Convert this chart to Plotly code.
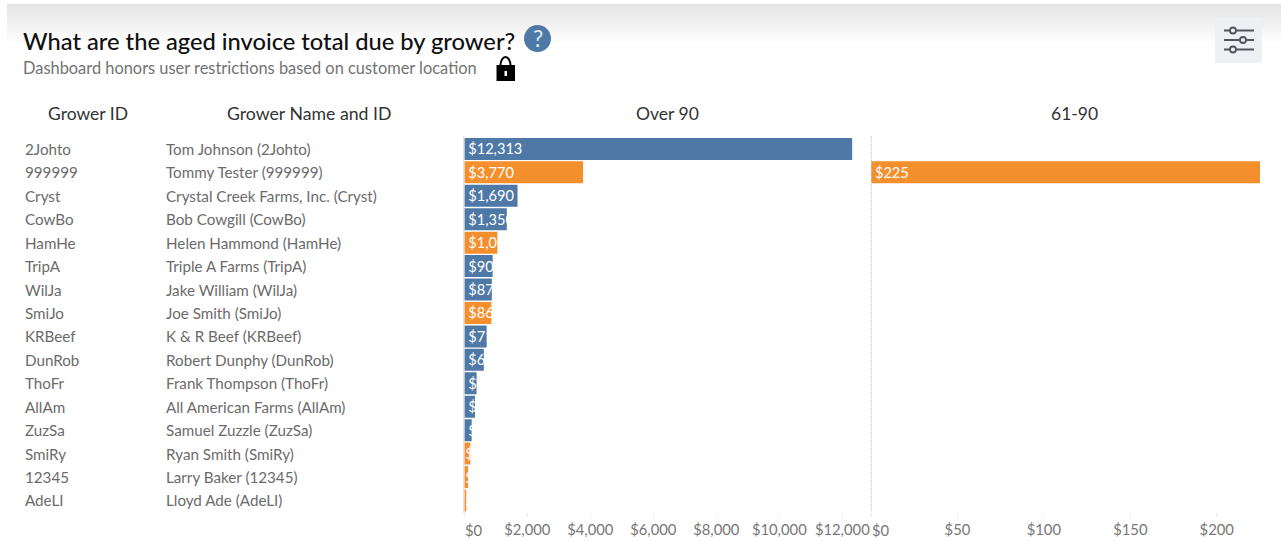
import plotly.graph_objects as go

grower_ids = ["2Johto","999999","Cryst","CowBo","HamHe","TripA","WilJa","SmiJo","KRBeef","DunRob","ThoFr","AllAm","ZuzSa","SmiRy","12345","AdeLI"]
grower_names = ["Tom Johnson (2Johto)","Tommy Tester (999999)","Crystal Creek Farms, Inc. (Cryst)","Bob Cowgill (CowBo)","Helen Hammond (HamHe)","Triple A Farms (TripA)","Jake William (WilJa)","Joe Smith (SmiJo)","K & R Beef (KRBeef)","Robert Dunphy (DunRob)","Frank Thompson (ThoFr)","All American Farms (AllAm)","Samuel Zuzzle (ZuzSa)","Ryan Smith (SmiRy)","Larry Baker (12345)","Lloyd Ade (AdeLI)"]
over_90 = [12313,3770,1690,1350,1050,900,875,860,710,620,390,340,235,190,120,50]
d61_90 = [None,225,None,None,None,None,None,None,None,None,None,None,None,None,None,None]
flag_orange = [0,1,0,0,1,0,0,1,0,0,0,0,0,1,1,1]
ticks_over = [0,2000,4000,6000,8000,10000,12000]
ticks_61 = [0,50,100,150,200]

W, H = 1281, 541
BLUE, ORANGE = "#4e79a7", "#f48f2d"
FONT = "Lato"
colors = [ORANGE if f else BLUE for f in flag_orange]
px = lambda v: v / W
py = lambda v: 1 - v / H
money = lambda v: f"${v:,}"
tick_text = lambda vals: ["" if v == 0 else money(v) for v in vals]

fig = go.Figure()
bar_style = dict(orientation="h", marker=dict(color=colors, line=dict(width=0)), textposition="inside",
                 insidetextanchor="start", constraintext="none", textangle=0, width=0.94,
                 textfont=dict(color="#ffffff", size=14.6, family=FONT))
fig.add_bar(y=grower_ids, x=over_90, text=["\u200a" + money(v) for v in over_90], xaxis="x", yaxis="y", **bar_style)
fig.add_bar(y=grower_ids, x=d61_90, text=["\u200a" + money(v) if v else "" for v in d61_90], xaxis="x2", yaxis="y2", **bar_style)

shapes = []
# top fading band
for i in range(40):
    g = 228 + int(27 * i / 39)
    shapes.append(dict(type="rect", xref="paper", yref="paper", x0=px(7), x1=1, y0=py(4 + i + 1), y1=py(4 + i),
                       fillcolor=f"rgb({g},{g},{g})", line=dict(width=0), layer="below"))
# panel divider
shapes.append(dict(type="line", xref="paper", yref="paper", x0=px(871.5), x1=px(871.5), y0=py(136), y1=py(511),
                   line=dict(color="#c8c8c8", width=1, dash="1px,1px")))
shapes.append(dict(type="line", xref="paper", yref="paper", x0=px(463.8), x1=px(463.8), y0=py(136), y1=py(513),
                   line=dict(color="#d8d8d8", width=1)))
# help icon
shapes.append(dict(type="circle", xref="paper", yref="paper", x0=px(524), x1=px(551), y0=py(52), y1=py(25),
                   fillcolor=BLUE, line=dict(width=0)))
# lock icon
shapes.append(dict(type="path", xref="paper", yref="paper",
    path=f"M {px(496.5)} {py(81)} L {px(515)} {py(81)} L {px(515)} {py(65)} L {px(496.5)} {py(65)} Z",
    fillcolor="#000000", line=dict(width=0)))
shapes.append(dict(type="circle", xref="paper", yref="paper", x0=px(500.5), x1=px(510.5), y0=py(74), y1=py(57),
                   fillcolor="rgba(0,0,0,0)", line=dict(color="#000000", width=2)))
shapes.append(dict(type="rect", xref="paper", yref="paper", x0=px(504.5), x1=px(507), y0=py(76), y1=py(71),
                   fillcolor="#ffffff", line=dict(width=0)))
# filter button
shapes.append(dict(type="rect", xref="paper", yref="paper", x0=px(1215), x1=px(1262), y0=py(63), y1=py(17),
                   fillcolor="#eef0f3", line=dict(width=0)))
for yy, cx in [(30.5, 1233), (40, 1243), (49.5, 1233)]:
    shapes.append(dict(type="line", xref="paper", yref="paper", x0=px(1224), x1=px(1254), y0=py(yy), y1=py(yy),
                       line=dict(color="#50565c", width=2)))
    shapes.append(dict(type="circle", xref="paper", yref="paper", x0=px(cx - 3), x1=px(cx + 3), y0=py(yy + 3), y1=py(yy - 3),
                       fillcolor="#eef0f3", line=dict(color="#50565c", width=1.8)))

def note(x, y, text, size, color, anchor="left", weight=None, yref="paper"):
    return dict(xref="paper", yref=yref, x=px(x), y=y, text=text, showarrow=False,
                xanchor=anchor, yanchor="middle", align=anchor, borderpad=0,
                font=dict(size=size, color=color, family=FONT, weight=weight))

ann = [
    note(22, py(41.5), "What are the aged invoice total due by grower?", 23.7, "#111111", weight=500),
    note(22, py(67.5), "Dashboard honors user restrictions based on customer location", 16.4, "#737373"),
    note(537.5, py(38), "?", 23, "#dfe7f0", "center"),
    note(87.5, py(113.5), "Grower ID", 17.5, "#333333", "center"),
    note(309, py(113.5), "Grower Name and ID", 17.7, "#333333", "center"),
    note(667, py(113.5), "Over 90", 17.5, "#333333", "center"),
    note(1074, py(113.5), "61-90", 17.5, "#333333", "center"),
]
for i, (gid, name) in enumerate(zip(grower_ids, grower_names)):
    ann.append(note(24, i, gid, 15.2, "#6b6b6b", yref="y"))
    ann.append(note(165, i, name, 15.2, "#6b6b6b", yref="y"))
# the zero labels sit to the right of their ticks, so they do not touch the neighbouring panel
for xref, vals in (("x", ticks_over), ("x2", ticks_61)):
    ann.append(dict(xref=xref, yref="paper", x=vals[0], y=py(529.5), text=money(vals[0]), showarrow=False,
                    xanchor="left", yanchor="middle", borderpad=0,
                    font=dict(size=14.8, color="#777777", family=FONT)))

axis_common = dict(showgrid=False, zeroline=False, showline=False, ticks="outside", ticklen=4, tickcolor="#ececec",
                   tickmode="array", tickfont=dict(size=14.8, color="#777777", family=FONT), anchor="y")
yaxis_common = dict(type="category", autorange=False, range=[15.5, -0.5], domain=[py(512.2), py(137.2)],
                    showticklabels=False, showgrid=False, zeroline=False, showline=False, ticks="")
fig.update_layout(
    width=W, height=H, margin=dict(l=0, r=0, t=0, b=0, autoexpand=False), paper_bgcolor="#ffffff", plot_bgcolor="rgba(0,0,0,0)",
    showlegend=False, barmode="overlay", shapes=shapes, annotations=ann,
    xaxis=dict(domain=[px(464.3), px(871)], range=[0, 12911], tickvals=ticks_over,
               ticktext=tick_text(ticks_over), **axis_common),
    xaxis2=dict(domain=[px(871), px(1265)], range=[0, 227.9], tickvals=ticks_61,
                ticktext=tick_text(ticks_61), **{**axis_common, "anchor": "y2"}),
    yaxis=yaxis_common,
    yaxis2=dict(**yaxis_common, anchor="x2"),
)
fig.write_html("out.html", config={"displayModeBar": False},
               post_script="document.body.style.margin='0';document.body.style.overflow='hidden';")
